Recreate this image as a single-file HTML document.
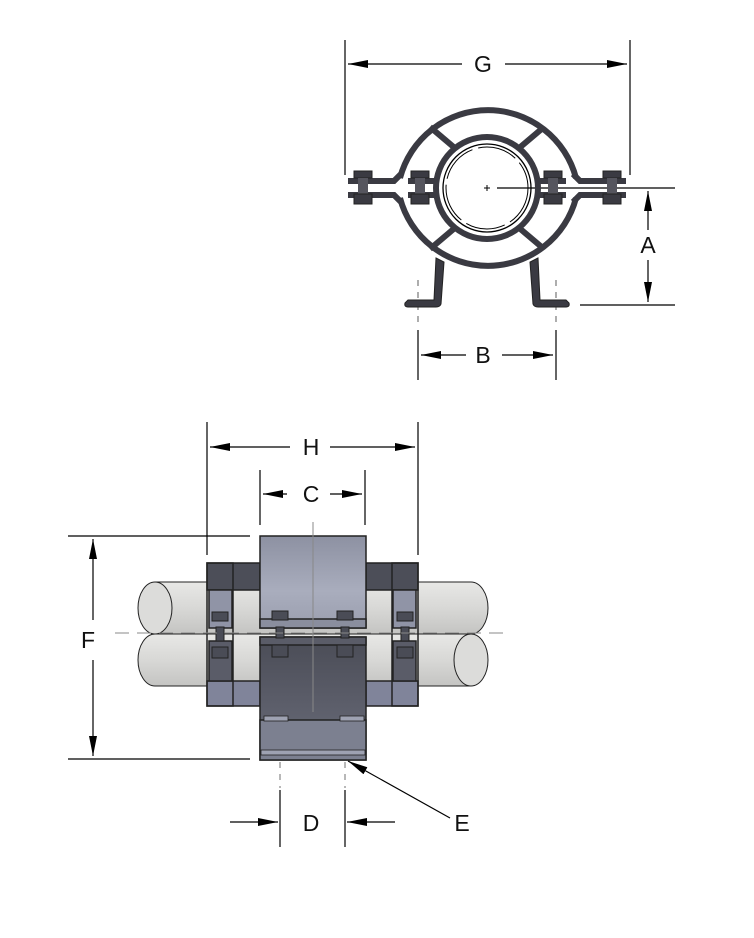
<!DOCTYPE html>
<html><head><meta charset="utf-8"><style>
html,body{margin:0;padding:0;background:#fff;}
svg{display:block;}
text{font-family:"Liberation Sans",sans-serif;font-size:23px;fill:#111;}
</style></head><body>
<svg width="754" height="938" viewBox="0 0 754 938" xmlns="http://www.w3.org/2000/svg">
<defs>
<marker id="ar" viewBox="0 0 20 8" refX="20" refY="4" markerWidth="20" markerHeight="8" markerUnits="userSpaceOnUse" orient="auto-start-reverse"><path d="M0,0 L20,4 L0,8 z" fill="#000"/></marker>
<linearGradient id="gU" x1="0" y1="0" x2="0" y2="1"><stop offset="0" stop-color="#8d91a2"/><stop offset="0.6" stop-color="#a9adbd"/><stop offset="1" stop-color="#9a9eae"/></linearGradient>
<linearGradient id="gL" x1="0" y1="0" x2="0" y2="1"><stop offset="0" stop-color="#4a4c56"/><stop offset="0.5" stop-color="#5a5c68"/><stop offset="1" stop-color="#6a6d7a"/></linearGradient>
<linearGradient id="gP" x1="0" y1="0" x2="0" y2="1"><stop offset="0" stop-color="#e8e8e6"/><stop offset="0.5" stop-color="#d8d8d6"/><stop offset="1" stop-color="#c4c4c2"/></linearGradient>
<g id="bolt"><rect x="-9" y="-10" width="18" height="7" fill="#3a3a42" stroke="#222" stroke-width="1"/><rect x="-5" y="-3" width="10" height="16" fill="#55555e"/><rect x="-9" y="13" width="18" height="10" fill="#3a3a42" stroke="#222" stroke-width="1"/></g>
</defs>

<!-- TOP VIEW -->
<g stroke="#000" stroke-width="1.2" fill="none">
<line x1="345" y1="40" x2="345" y2="175"/>
<line x1="630" y1="40" x2="630" y2="175"/>
<line x1="348" y1="64" x2="462" y2="64" marker-start="url(#ar)"/>
<line x1="505" y1="64" x2="627" y2="64" marker-end="url(#ar)"/>
<line x1="497" y1="188" x2="675" y2="188"/>
<line x1="580" y1="305" x2="675" y2="305"/>
<line x1="648" y1="191" x2="648" y2="230" marker-start="url(#ar)"/>
<line x1="648" y1="260" x2="648" y2="302" marker-end="url(#ar)"/>
<line x1="418" y1="330" x2="418" y2="380"/>
<line x1="556" y1="330" x2="556" y2="380"/>
<line x1="421" y1="355" x2="466" y2="355" marker-start="url(#ar)"/>
<line x1="502" y1="355" x2="553" y2="355" marker-end="url(#ar)"/>
<line x1="418" y1="280" x2="418" y2="325" stroke="#777" stroke-dasharray="6,6"/>
<line x1="556" y1="280" x2="556" y2="325" stroke="#777" stroke-dasharray="6,6"/>
</g>
<text x="483" y="72" text-anchor="middle">G</text>
<text x="648" y="253" text-anchor="middle">A</text>
<text x="483" y="363" text-anchor="middle">B</text>

<path d="M436,258 L444,262 L441,304 Q440,307 436,307 L408,307 Q404,307 405,303 L408,300 L434,300 Z" fill="#3a3a42" stroke="#222" stroke-width="1"/>
<path d="M538,258 L530,262 L533,304 Q534,307 538,307 L566,307 Q570,307 569,303 L566,300 L540,300 Z" fill="#3a3a42" stroke="#222" stroke-width="1"/>
<g fill="none" stroke="#3a3a42" stroke-width="6">
<path d="M400,178 A91,91 0 0 1 576,178"/>
<path d="M400,198 A91,91 0 0 0 576,198"/>
<circle cx="487" cy="188" r="51"/>
<line x1="430" y1="127" x2="456" y2="149"/>
<line x1="544" y1="127" x2="518" y2="149"/>
<line x1="430" y1="249" x2="456" y2="227"/>
<line x1="544" y1="249" x2="518" y2="227"/>
<path d="M348,181 L394,181 L401,174"/><path d="M348,195 L394,195 L401,202"/>
<path d="M626,181 L580,181 L573,174"/><path d="M626,195 L580,195 L573,202"/>
<path d="M408,181 L436,181"/><path d="M408,195 L436,195"/>
<path d="M566,181 L538,181"/><path d="M566,195 L538,195"/>
</g>
<circle cx="487" cy="188" r="44" fill="none" stroke="#000" stroke-width="1.3"/>
<circle cx="487" cy="188" r="41" fill="none" stroke="#000" stroke-width="1" stroke-dasharray="40,6"/>
<path d="M484,188h6M487,185v6" stroke="#000"/>
<use href="#bolt" x="363" y="181"/><use href="#bolt" x="420" y="181"/>
<use href="#bolt" x="553" y="181"/><use href="#bolt" x="612" y="181"/>

<!-- BOTTOM VIEW -->
<g stroke="#000" stroke-width="1.2" fill="none">
<line x1="207" y1="422" x2="207" y2="555"/>
<line x1="418" y1="422" x2="418" y2="555"/>
<line x1="210" y1="447" x2="290" y2="447" marker-start="url(#ar)"/>
<line x1="330" y1="447" x2="415" y2="447" marker-end="url(#ar)"/>
<line x1="260" y1="470" x2="260" y2="525"/>
<line x1="365" y1="470" x2="365" y2="525"/>
<line x1="263" y1="494" x2="287" y2="494" marker-start="url(#ar)"/>
<line x1="330" y1="494" x2="362" y2="494" marker-end="url(#ar)"/>
<line x1="68" y1="536" x2="250" y2="536"/>
<line x1="68" y1="759" x2="250" y2="759"/>
<line x1="93" y1="539" x2="93" y2="620" marker-start="url(#ar)"/>
<line x1="93" y1="660" x2="93" y2="756" marker-end="url(#ar)"/>
<line x1="280" y1="790" x2="280" y2="847"/>
<line x1="345" y1="790" x2="345" y2="847"/>
<line x1="230" y1="822" x2="278" y2="822" marker-end="url(#ar)"/>
<line x1="395" y1="822" x2="347" y2="822" marker-end="url(#ar)"/>
<line x1="280" y1="762" x2="280" y2="788" stroke="#888" stroke-dasharray="6,6"/>
<line x1="345" y1="762" x2="345" y2="788" stroke="#888" stroke-dasharray="6,6"/>
<line x1="450" y1="818" x2="348" y2="761" marker-end="url(#ar)"/>
</g>
<text x="311" y="455" text-anchor="middle">H</text>
<text x="311" y="502" text-anchor="middle">C</text>
<text x="88" y="648" text-anchor="middle">F</text>
<text x="311" y="831" text-anchor="middle">D</text>
<text x="462" y="831" text-anchor="middle" font-size="26">E</text>

<!-- pipes -->
<g stroke="#222" stroke-width="1">
<path d="M155,582 L471,582 A17,26 0 0 1 471,634 L155,634 Z" fill="url(#gP)"/>
<ellipse cx="155" cy="608" rx="17" ry="26" fill="#dcdcda"/>
<path d="M155,634 L471,634 L471,686 L155,686 A17,26 0 0 1 155,634 Z" fill="url(#gP)"/>
<ellipse cx="471" cy="660" rx="17" ry="26" fill="#dcdcda"/>
</g>
<!-- side clamps -->
<g stroke="#222" stroke-width="1.5">
<rect x="207" y="563" width="53" height="27" fill="#4c4e58"/>
<rect x="366" y="563" width="52" height="27" fill="#4c4e58"/>
<rect x="207" y="681" width="53" height="25" fill="#80849a"/>
<rect x="366" y="681" width="52" height="25" fill="#80849a"/>
<rect x="207" y="563" width="26" height="143" fill="none"/>
<rect x="392" y="563" width="26" height="143" fill="none"/>
<rect x="209" y="590" width="23" height="38" fill="#9094a6"/>
<rect x="393" y="590" width="23" height="38" fill="#9094a6"/>
<rect x="209" y="641" width="23" height="40" fill="#5a5c68"/>
<rect x="393" y="641" width="23" height="40" fill="#5a5c68"/>
</g>
<!-- center block -->
<g stroke="#222" stroke-width="1.5">
<rect x="260" y="536" width="106" height="92" fill="url(#gU)"/>
<rect x="260" y="619" width="106" height="9" fill="#8a8e9e"/>
<rect x="260" y="637" width="106" height="123" fill="url(#gL)"/>
<rect x="260" y="637" width="106" height="8" fill="#5a5c68"/>
<rect x="260" y="720" width="106" height="40" fill="#7c8090"/>
<rect x="264" y="716" width="24" height="5" fill="#9ea2b2" stroke-width="0.8"/>
<rect x="340" y="716" width="24" height="5" fill="#9ea2b2" stroke-width="0.8"/>
<rect x="261" y="750" width="104" height="5" fill="#9ea2b2" stroke-width="0.8"/>
</g>
<g fill="#4a4c56" stroke="#222" stroke-width="1">
<rect x="272" y="611" width="16" height="9"/><rect x="337" y="611" width="16" height="9"/>
<rect x="272" y="645" width="16" height="12"/><rect x="337" y="645" width="16" height="12"/>
<rect x="212" y="612" width="16" height="9"/><rect x="397" y="612" width="16" height="9"/>
<rect x="212" y="647" width="16" height="11"/><rect x="397" y="647" width="16" height="11"/>
<rect x="276" y="627" width="8" height="11"/><rect x="341" y="627" width="8" height="11"/>
<rect x="216" y="627" width="8" height="14"/><rect x="401" y="627" width="8" height="14"/>
</g>
<g stroke="#888" stroke-width="1" fill="none">
<line x1="115" y1="633" x2="510" y2="633" stroke-dasharray="14,8"/>
<line x1="313" y1="522" x2="313" y2="712"/>
</g>
</svg>
</body></html>
